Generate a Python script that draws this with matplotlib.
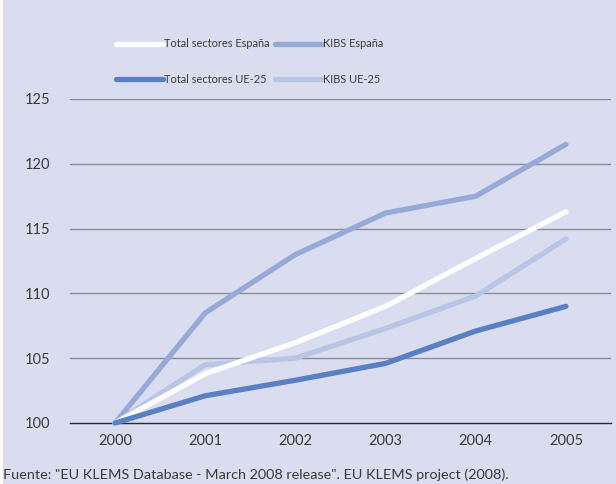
import matplotlib
matplotlib.use("Agg")
import matplotlib.pyplot as plt
from matplotlib.patches import Rectangle

plt.rcParams['font.family'] = ['Lato', 'DejaVu Sans']

years = [2000, 2001, 2002, 2003, 2004, 2005]
total_espana = [100, 103.8, 106.2, 109.0, 112.7, 116.3]
kibs_espana = [100, 108.5, 113.0, 116.2, 117.5, 121.5]
total_ue25 = [100, 102.1, 103.3, 104.6, 107.1, 109.0]
kibs_ue25 = [100, 104.5, 105.0, 107.3, 109.8, 114.2]
y_ticks = [100, 105, 110, 115, 120, 125]
source_text = 'Fuente: "EU KLEMS Database - March 2008 release". EU KLEMS project (2008).'

bg = '#d9ddef'
W, H = 616, 484
fig = plt.figure(figsize=(W / 100, H / 100), dpi=100)
fig.patch.set_facecolor('white')
fig.patches.append(Rectangle((3 / W, 0), 1, 1, transform=fig.transFigure,
                             facecolor=bg, edgecolor='none', zorder=-10))

ax = fig.add_axes([70 / W, 1 - 423 / H, (611 - 70) / W, (423 - 99) / H])
ax.set_facecolor('none')
ax.set_xlim(1999.5, 2005.5)
ax.set_ylim(100, 125)

for v in y_ticks[1:]:
    ax.axhline(v, color='#8c8c90', lw=1.0, zorder=1)
ax.axhline(100, color='#2a2a30', lw=1.0, zorder=1, clip_on=False)

lw = 3.8
series = [
    ('Total sectores España', total_espana, '#ffffff', 4),
    ('KIBS España', kibs_espana, '#97a9d9', 3),
    ('Total sectores UE-25', total_ue25, '#5a7fc4', 5),
    ('KIBS UE-25', kibs_ue25, '#b9c5e6', 3),
]
handles = {}
for name, vals, col, z in series:
    ln, = ax.plot(years, vals, color=col, lw=lw, solid_capstyle='round',
                  solid_joinstyle='round', zorder=z, label=name, clip_on=False)
    handles[name] = ln

for s in ax.spines.values():
    s.set_visible(False)
ax.set_xticks(years)
ax.set_xticklabels([str(y) for y in years])
ax.set_yticks(y_ticks)
ax.set_yticklabels([str(v) for v in y_ticks])
ax.tick_params(length=0, labelsize=10.5, colors='#3a3a3a', pad=14)
ax.tick_params(axis='x', pad=8)

order = ['Total sectores España', 'Total sectores UE-25', 'KIBS España', 'KIBS UE-25']
fs = 7.9
em = fs * 100 / 72
leg = fig.legend([handles[k] for k in order], order, ncol=2, frameon=False,
                 loc='upper left', bbox_to_anchor=(111 / W, 1 - 33 / H),
                 fontsize=fs, handlelength=47 / em,
                 handletextpad=1 / em,
                 columnspacing=5 / em, labelspacing=2.2,
                 borderpad=0)
for t in leg.get_texts():
    t.set_color('#3a3a3a')

fig.text(3 / W, 1 - 475 / H, source_text, fontsize=10.4, color='#3a3a3a',
         ha='left', va='center')

fig.savefig('out.png', dpi=100, facecolor=fig.get_facecolor())
